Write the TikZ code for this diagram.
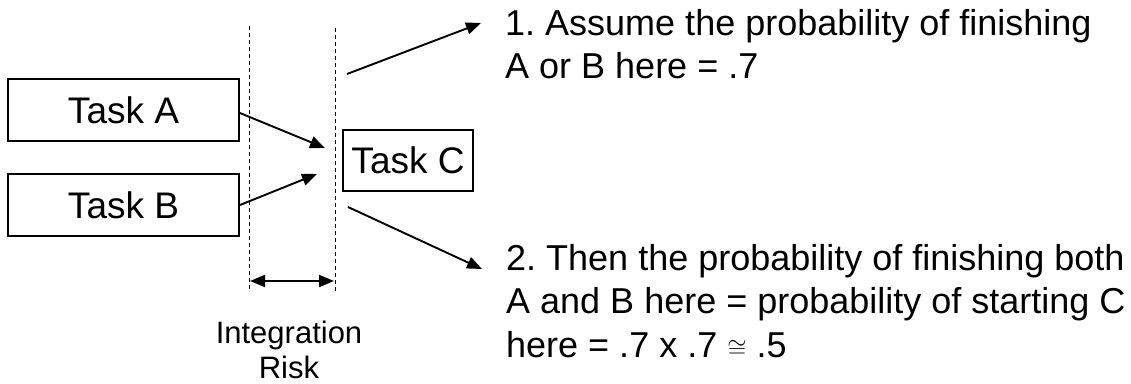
\documentclass[tikz,border=0pt]{standalone}
\usepackage{fontspec}
\setmainfont{Liberation Sans}
\usetikzlibrary{arrows.meta}
\frenchspacing
\begin{document}
\begin{tikzpicture}[x=1pt,y=-1pt,
  taskbox/.style={draw,line width=1.9pt,inner sep=0pt,font=\fontsize{37}{42}\selectfont},
  arr/.style={line width=1.9pt,-{Triangle[length=15pt,width=12pt]}},
  dbl/.style={line width=1.9pt,{Triangle[length=15pt,width=12pt]}-{Triangle[length=15pt,width=12pt]}},
  guide/.style={line width=0.9pt,dash pattern=on 4pt off 3pt},
  note/.style={align=left,inner sep=0pt,anchor=north west,font=\fontsize{36}{43.5}\selectfont},
  lbl/.style={align=center,inner sep=0pt,anchor=north,font=\fontsize{31}{35}\selectfont}]
\useasboundingbox (0,0) rectangle (1131,383);
% boxes
\node[taskbox,minimum width=231pt,minimum height=62pt] (A) at (123.5,110) {Task A};
\node[taskbox,minimum width=231pt,minimum height=62pt] (B) at (123.5,205) {Task B};
\node[taskbox,minimum width=130pt,minimum height=61pt] (C) at (408,160.5) {Task C};
% guides
\coordinate (g1t) at (249,26); \coordinate (g1b) at (249,290);
\coordinate (g2t) at (335,28); \coordinate (g2b) at (335,292);
\draw[guide] (g1t) -- (g1b);
\draw[guide] (g2t) -- (g2b);
% width arrow
\coordinate (w1) at (250,281); \coordinate (w2) at (334,281);
\draw[dbl] (w1) -- (w2);
% incoming arrows
\coordinate (ja) at (325,148);
\coordinate (jb) at (317,174);
\draw[arr] ([yshift=-3pt]A.east) -- (ja);
\draw[arr] (B.east) -- (jb);
% outgoing arrows
\coordinate (o1s) at (347,74); \coordinate (o1e) at (481,23);
\coordinate (o2s) at (348,207); \coordinate (o2e) at (482,269);
\draw[arr] (o1s) -- (o1e);
\draw[arr] (o2s) -- (o2e);
% texts
\node[note] (t1) at (505,9) {1. Assume the probability of finishing\\A or B here = .7};
\node[note] (t2) at (506,244) {2. Then the probability of finishing both\\A and B here = probability of starting C\\here = .7 x .7 $\cong$ .5};
\node[lbl] (ir) at (289,321) {Integration\\Risk};
\end{tikzpicture}
\end{document}
